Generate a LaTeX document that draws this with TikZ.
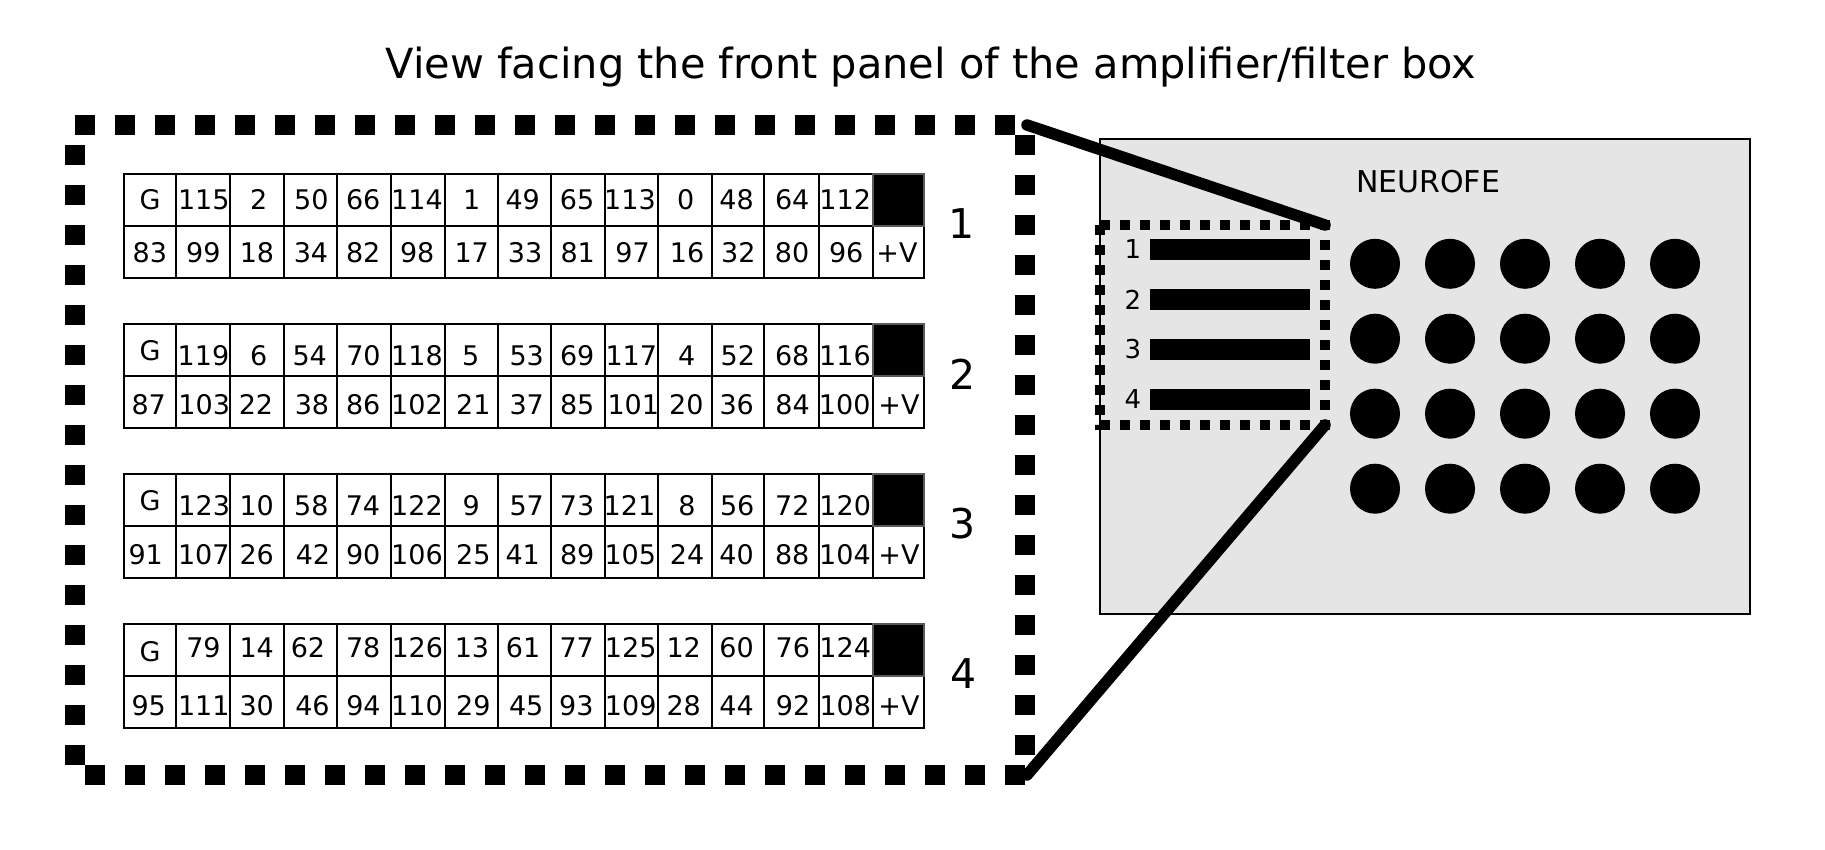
\documentclass[tikz,border=0pt]{standalone}
\usepackage{fontspec}
\setmainfont{DejaVu Sans}
\newcommand{\fs}[1]{\fontsize{#1}{#1}\selectfont}
\tikzset{
  x=1pt,y=-1pt,
  gridline/.style={draw=black,line width=2pt,line cap=rect},
  blackcell/.style={draw=black!65,line width=2pt,fill=black},
  celltext/.style={inner sep=0pt,anchor=center,font=\fs{27},text height=20pt,text depth=0pt,yshift=-1pt},
  bigdash/.style={draw=black,line width=20pt,dash pattern=on 20pt off 20pt,line cap=butt},
  smalldash/.style={draw=black,line width=10pt,dash pattern=on 10pt off 10pt,line cap=butt},
  heavy line/.style={draw=black,line width=11.5pt,line cap=round},
  panel/.style={draw=black,line width=2.5pt,fill=black!10},
  jack/.style={circle,fill=black,inner sep=0pt,minimum size=50pt},
  bar/.style={fill=black,inner sep=0pt,minimum width=160.5pt,minimum height=21pt},
}
\begin{document}
\begin{tikzpicture}
\useasboundingbox (0,0) rectangle (1825,850);
\node[font=\fs{41.5},inner sep=0pt] (title) at (931,67) {View facing the front panel of the amplifier/filter box};
\draw[panel] (1100,139) rectangle (1750,614);
\node[font=\fs{30},inner sep=0pt] (neuro) at (1428,182) {NEUROFE};
\draw[bigdash] (75,125) -- (1025,125) -- (1025,775) -- (75,775) -- cycle;
\foreach \ty/\n/\lx/\gy/\ya/\yb/\ra/\rb in {
 174/1/962/25/25/77.7/{115/203.8,2/258.7,50/311.3,66/363.2,114/417,1/471.7,49/522.7,65/577,113/630,0/685.8,48/736.5,64/792.2,112/845.2}/{83/149.8,99/203.3,18/257,34/311,82/363.2,98/417.2,17/471.7,33/525,81/577.7,97/632.5,16/687,32/738.3,80/792,96/846.2,+V/897},
 324/2/963/25/30/79/{119/203.5,6/258.7,54/309.7,70/363.5,118/417,5/470.8,53/526.7,69/577.2,117/631.3,4/686.7,52/737.8,68/792.2,116/845}/{87/148.7,103/204.2,22/256,38/312,86/363.2,102/417,21/473.3,37/526.7,85/577.2,101/633.3,20/686.3,36/736.7,84/792.5,100/844.7,+V/899},
 474/3/963/25/30.3/79.3/{123/204.2,10/256.7,58/311.3,74/363,122/417,9/471.3,57/526.7,73/577,121/629.5,8/687,56/737.2,72/792.3,120/845.2}/{91/145.7,107/203.8,26/256.7,42/313,90/363.2,106/417,25/473.3,41/522.7,89/577.2,105/630.3,24/687,40/736.5,88/792.2,104/845,+V/899},
 624/4/964/26.7/22/80/{79/203.5,14/256.7,62/308,78/363.2,126/417.3,13/472,61/523,77/576.7,125/630.7,12/683.7,60/736.5,76/792.8,124/845.2}/{95/148.7,111/203.8,30/256.7,46/312.5,94/363.5,110/417,29/473.3,45/526.2,93/576.3,109/630.7,28/683.7,44/736.5,92/793,108/845.3,+V/899}}{
  \foreach \gl in {124,176.3,230.3,284.3,336.7,390.7,444.7,498.3,550.7,604.5,658.3,712.3,764.3,818.7,872.7,924.3}
    \draw[gridline] (\gl,\ty) -- (\gl,\ty+103.7);
  \foreach \hl in {0,52,103.7}
    \draw[gridline] (124,\ty+\hl) -- (924.3,\ty+\hl);
  \draw[blackcell] (872.7,\ty) rectangle (924.3,\ty+52);
  \node[celltext] at (150,\ty+\gy) {G};
  \foreach \t/\x in \ra \node[celltext] at (\x,\ty+\ya) {\t};
  \foreach \t/\x in \rb \node[celltext] at (\x,\ty+\yb) {\t};
  \node[font=\fs{41},inner sep=0pt] (lab\n) at (\lx,\ty+50) {\n};
}
\foreach \y/\l in {249.5/1,299.5/2,349.5/3,399.5/4}{
  \node[bar] (bar\l) at (1230.2,\y) {};
  \node[font=\fs{26},inner sep=0pt] (blab\l) at (1133,\y) {\l};
}
\foreach \cy [count=\r] in {263.8,338.7,413.7,488.7}
  \foreach \cx [count=\c] in {1375,1450,1525,1600,1675}
    \node[jack] (j\r\c) at (\cx,\cy) {};
\draw[smalldash] (1100,225) -- (1325,225) -- (1325,425) -- (1100,425) -- cycle;
\coordinate (a1) at (1027,125); \coordinate (a2) at (1325,225);
\coordinate (b1) at (1027,775); \coordinate (b2) at (1325,425);
\draw[heavy line] (a1) -- (a2);
\draw[heavy line] (b1) -- (b2);
\end{tikzpicture}
\end{document}
